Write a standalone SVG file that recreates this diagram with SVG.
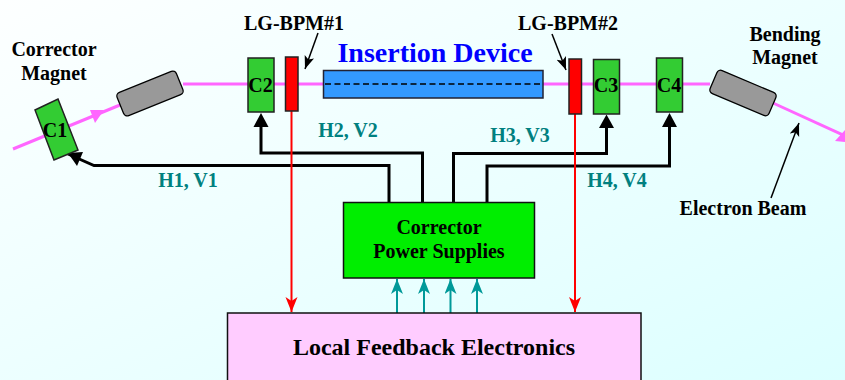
<svg xmlns="http://www.w3.org/2000/svg" width="845" height="380" viewBox="0 0 845 380">
<defs>
<linearGradient id="bg" x1="0" y1="0" x2="1" y2="1"><stop offset="0" stop-color="#fdffff"/><stop offset="1" stop-color="#dcffff"/></linearGradient>
<marker id="ar" markerUnits="userSpaceOnUse" markerWidth="15" markerHeight="14" refX="15" refY="6" orient="auto"><path d="M0 0L15 6L0 12L4 6z" fill="#f00"/></marker>
<marker id="at" markerUnits="userSpaceOnUse" markerWidth="15" markerHeight="14" refX="15" refY="6" orient="auto"><path d="M0 0L15 6L0 12L4 6z" fill="#009999"/></marker>
<marker id="ak" markerUnits="userSpaceOnUse" markerWidth="14" markerHeight="12" refX="13" refY="5" orient="auto"><path d="M0 0L13 5L0 10L3 5z" fill="#000"/></marker>
</defs>
<style>
text{font-family:"Liberation Serif","Times New Roman",serif;font-weight:bold;fill:#000;text-anchor:middle}
.l{font-size:20px}
.s{font-size:20px}
.t{font-size:20px;fill:#008080}
.box{stroke:#222;stroke-width:1.5}
.g{fill:#33cc33}
.r{fill:#ff0000}
.m{fill:#999999;stroke:#000;stroke-width:1.3}
.beam{stroke:#ff66ff;stroke-width:3;fill:none}
.k{stroke:#000;fill:none}
.red{stroke:#f00;stroke-width:2;fill:none;marker-end:url(#ar)}
.te{stroke:#009999;stroke-width:2;fill:none;marker-end:url(#at)}
.tn{stroke:#000;stroke-width:1.5;fill:none;marker-end:url(#ak)}
</style>
<rect width="845" height="380" fill="url(#bg)"/>
<g id="connectors">
<path class="beam" d="M13 149L120 105"/>
<path d="M104 110L90 110L95 123z" fill="#ff66ff"/>
<path class="beam" d="M183 84H710"/>
<path class="beam" d="M773 103L845 136"/>
<path d="M845 130L845 142L835 141z" fill="#ff66ff"/>
<path class="k" stroke-width="3" d="M389 203V165.500H94L68 154"/>
<path d="M68 153L83 152L77 166z" fill="#000"/>
<path class="k" stroke-width="3" d="M422.500 203V153H261V125"/>
<path d="M261 113L268.500 127H253.500z" fill="#000"/>
<path class="k" stroke-width="3" d="M453.500 203V153.500H606.500V126"/>
<path d="M606.500 114.500L614 128H599z" fill="#000"/>
<path class="k" stroke-width="3" d="M487 203V166H669.500V125"/>
<path d="M669.500 113L677 127H662z" fill="#000"/>
<path class="red" d="M291.500 111V312"/>
<path class="red" d="M575 114V312"/>
<path class="te" d="M397 313V279"/>
<path class="te" d="M424 313V279"/>
<path class="te" d="M450.500 313V279"/>
<path class="te" d="M477 313V279"/>
<path class="tn" d="M318 33L305 69"/>
<path class="tn" d="M552 34L566 70"/>
<path class="tn" d="M771 198L799 123"/>
</g>
<g id="c1"><path class="box g" d="M35 110L58 99L78 150L54 160z"/><text class="s" x="55" y="137">C1</text></g>
<g id="bend1"><rect class="m" x="118" y="81" width="64" height="25" rx="4" transform="rotate(-22 150 93.500)"/></g>
<g id="c2"><rect class="box g" x="248" y="58" width="26" height="54"/><text class="s" x="260.500" y="92">C2</text></g>
<g id="lg1"><rect class="box r" x="285.500" y="57" width="12.500" height="54"/></g>
<g id="id"><rect x="323.500" y="70.500" width="219.500" height="27.500" fill="#3399ff" stroke="#223" stroke-width="1.500"/><path d="M325 84H541" stroke="#000" stroke-width="1.500" stroke-dasharray="6 3.500" fill="none"/></g>
<g id="lg2"><rect class="box r" x="569" y="59" width="12.500" height="55"/></g>
<g id="c3"><rect class="box g" x="593.500" y="59.500" width="26" height="54.500"/><text class="s" x="606" y="92">C3</text></g>
<g id="c4"><rect class="box g" x="656.500" y="58" width="26" height="54"/><text class="s" x="669" y="92">C4</text></g>
<g id="bend2"><rect class="m" x="711" y="80.500" width="64" height="25" rx="4" transform="rotate(23 743 93)"/></g>
<g id="ps"><rect x="343.500" y="202.500" width="191" height="75.500" fill="#00ee00" stroke="#111" stroke-width="1.500"/><text class="l" x="439" y="234">Corrector</text><text class="l" x="439" y="257.500">Power Supplies</text></g>
<g id="lfe"><rect x="227.500" y="313" width="413.500" height="70" fill="#ffccff" stroke="#111" stroke-width="1.500"/><text x="434" y="355" font-size="24">Local Feedback Electronics</text></g>
<text class="l" x="54" y="56">Corrector</text>
<text class="l" x="54" y="80">Magnet</text>
<text class="l" x="294" y="30">LG-BPM#1</text>
<text class="l" x="568" y="30">LG-BPM#2</text>
<text x="435" y="62" font-size="28" style="fill:#0000ff">Insertion Device</text>
<text class="l" x="785" y="41">Bending</text>
<text class="l" x="785" y="64">Magnet</text>
<text class="l" x="743" y="215">Electron Beam</text>
<text class="t" x="188" y="187">H1, V1</text>
<text class="t" x="348" y="137">H2, V2</text>
<text class="t" x="520" y="142">H3, V3</text>
<text class="t" x="617" y="187">H4, V4</text>
</svg>
